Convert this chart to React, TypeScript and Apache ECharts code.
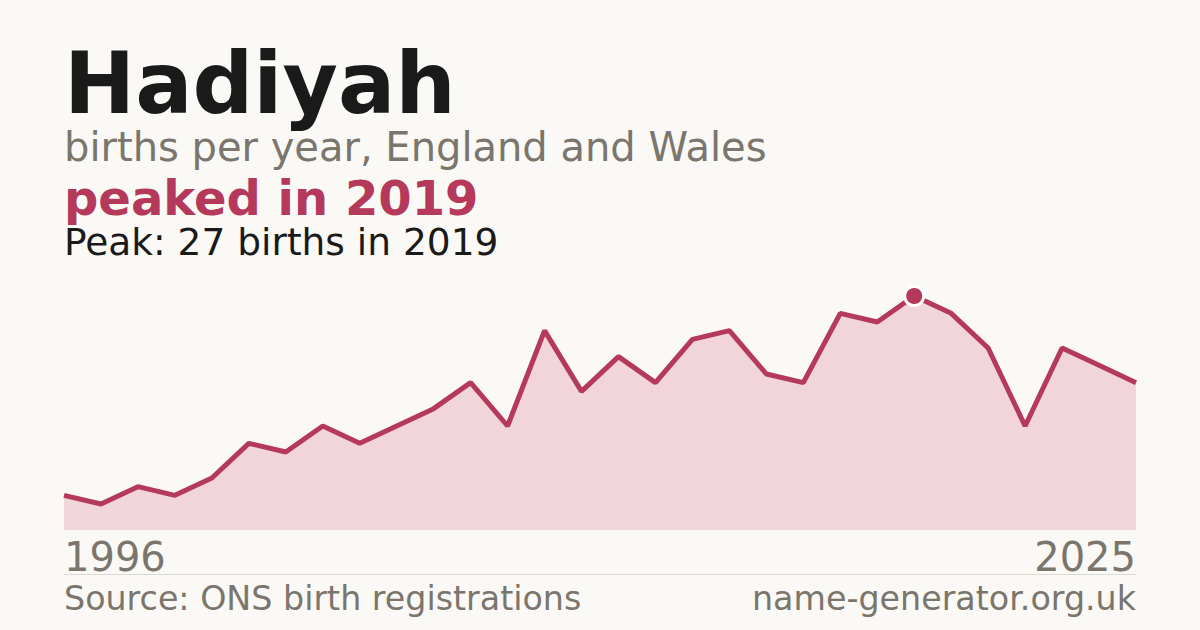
import { useEffect, useRef } from 'react';
import * as echarts from 'echarts';

const years = [
  '1996', '1997', '1998', '1999', '2000', '2001', '2002', '2003', '2004', '2005',
  '2006', '2007', '2008', '2009', '2010', '2011', '2012', '2013', '2014', '2015',
  '2016', '2017', '2018', '2019', '2020', '2021', '2022', '2023', '2024', '2025',
];
const births = [
  4, 3, 5, 4, 6, 10, 9, 12, 10, 12,
  14, 17, 12, 23, 16, 20, 17, 22, 23, 18,
  17, 25, 24, 27, 25, 21, 12, 21, 19, 17,
];

const nameTitle = 'Hadiyah';
const subtitle = 'births per year, England and Wales';
const headline = 'peaked in 2019';
const peakNote = 'Peak: 27 births in 2019';
const sourceText = 'Source: ONS birth registrations';
const siteText = 'name-generator.org.uk';

const FONT = '"DejaVu Sans", sans-serif';
const ACCENT = '#b5395a';
const MUTED = '#7a756d';

export default function App() {
  const containerRef = useRef<HTMLDivElement>(null);

  useEffect(() => {
    document.body.style.margin = '0';
    if (!containerRef.current) return;
    const chart = echarts.init(containerRef.current, null, { renderer: 'svg' });

    const peakIdx = births.indexOf(Math.max(...births));
    const peakData = births.map((v, i) => (i === peakIdx ? v : null));

    // text positions: y = baseline - 0.346 * fontSize (middle aligned)
    const txt = (text: string, x: number, y: number, size: number, color: string, weight: string, align = 'left') => ({
      type: 'text',
      x,
      y,
      style: {
        text,
        fill: color,
        font: `${weight} ${size}px ${FONT}`,
        align,
        verticalAlign: 'middle',
      },
    });

    const option: echarts.EChartsOption = {
      animation: false,
      backgroundColor: '#faf9f5',
      grid: { left: 64, right: 64, top: 296, bottom: 100 },
      xAxis: {
        type: 'category',
        data: years,
        boundaryGap: false,
        show: false,
      },
      yAxis: {
        type: 'value',
        min: 0,
        max: 27,
        show: false,
      },
      series: [
        {
          type: 'line',
          data: births,
          showSymbol: false,
          lineStyle: { color: ACCENT, width: 5 },
          areaStyle: { color: '#f2d5da', opacity: 1 },
          z: 2,
        },
        {
          type: 'line',
          data: peakData,
          showSymbol: true,
          symbol: 'circle',
          symbolSize: 19,
          lineStyle: { width: 0 },
          itemStyle: { color: ACCENT, borderColor: '#ffffff', borderWidth: 3 },
          z: 3,
        },
      ],
      graphic: [
        txt(nameTitle, 64, 83, 85, '#1a1a1a', 'bold'),
        txt(subtitle, 64, 147, 40, MUTED, 'normal'),
        txt(headline, 64, 197.5, 48, ACCENT, 'bold'),
        txt(peakNote, 64, 241.5, 37.5, '#1a1a1a', 'normal'),
        txt(years[0], 64, 557, 40, MUTED, 'normal'),
        txt(years[years.length - 1], 1136, 557, 40, MUTED, 'normal', 'right'),
        {
          type: 'line',
          shape: { x1: 64, y1: 574.5, x2: 1136, y2: 574.5 },
          style: { stroke: '#dcd9d2', lineWidth: 1 },
        },
        txt(sourceText, 64, 598, 33.3, MUTED, 'normal'),
        txt(siteText, 1136, 598, 33.3, MUTED, 'normal', 'right'),
      ] as any,
    };

    chart.setOption(option);
    return () => chart.dispose();
  }, []);

  return <div ref={containerRef} style={{ width: 1200, height: 630 }} />;
}
